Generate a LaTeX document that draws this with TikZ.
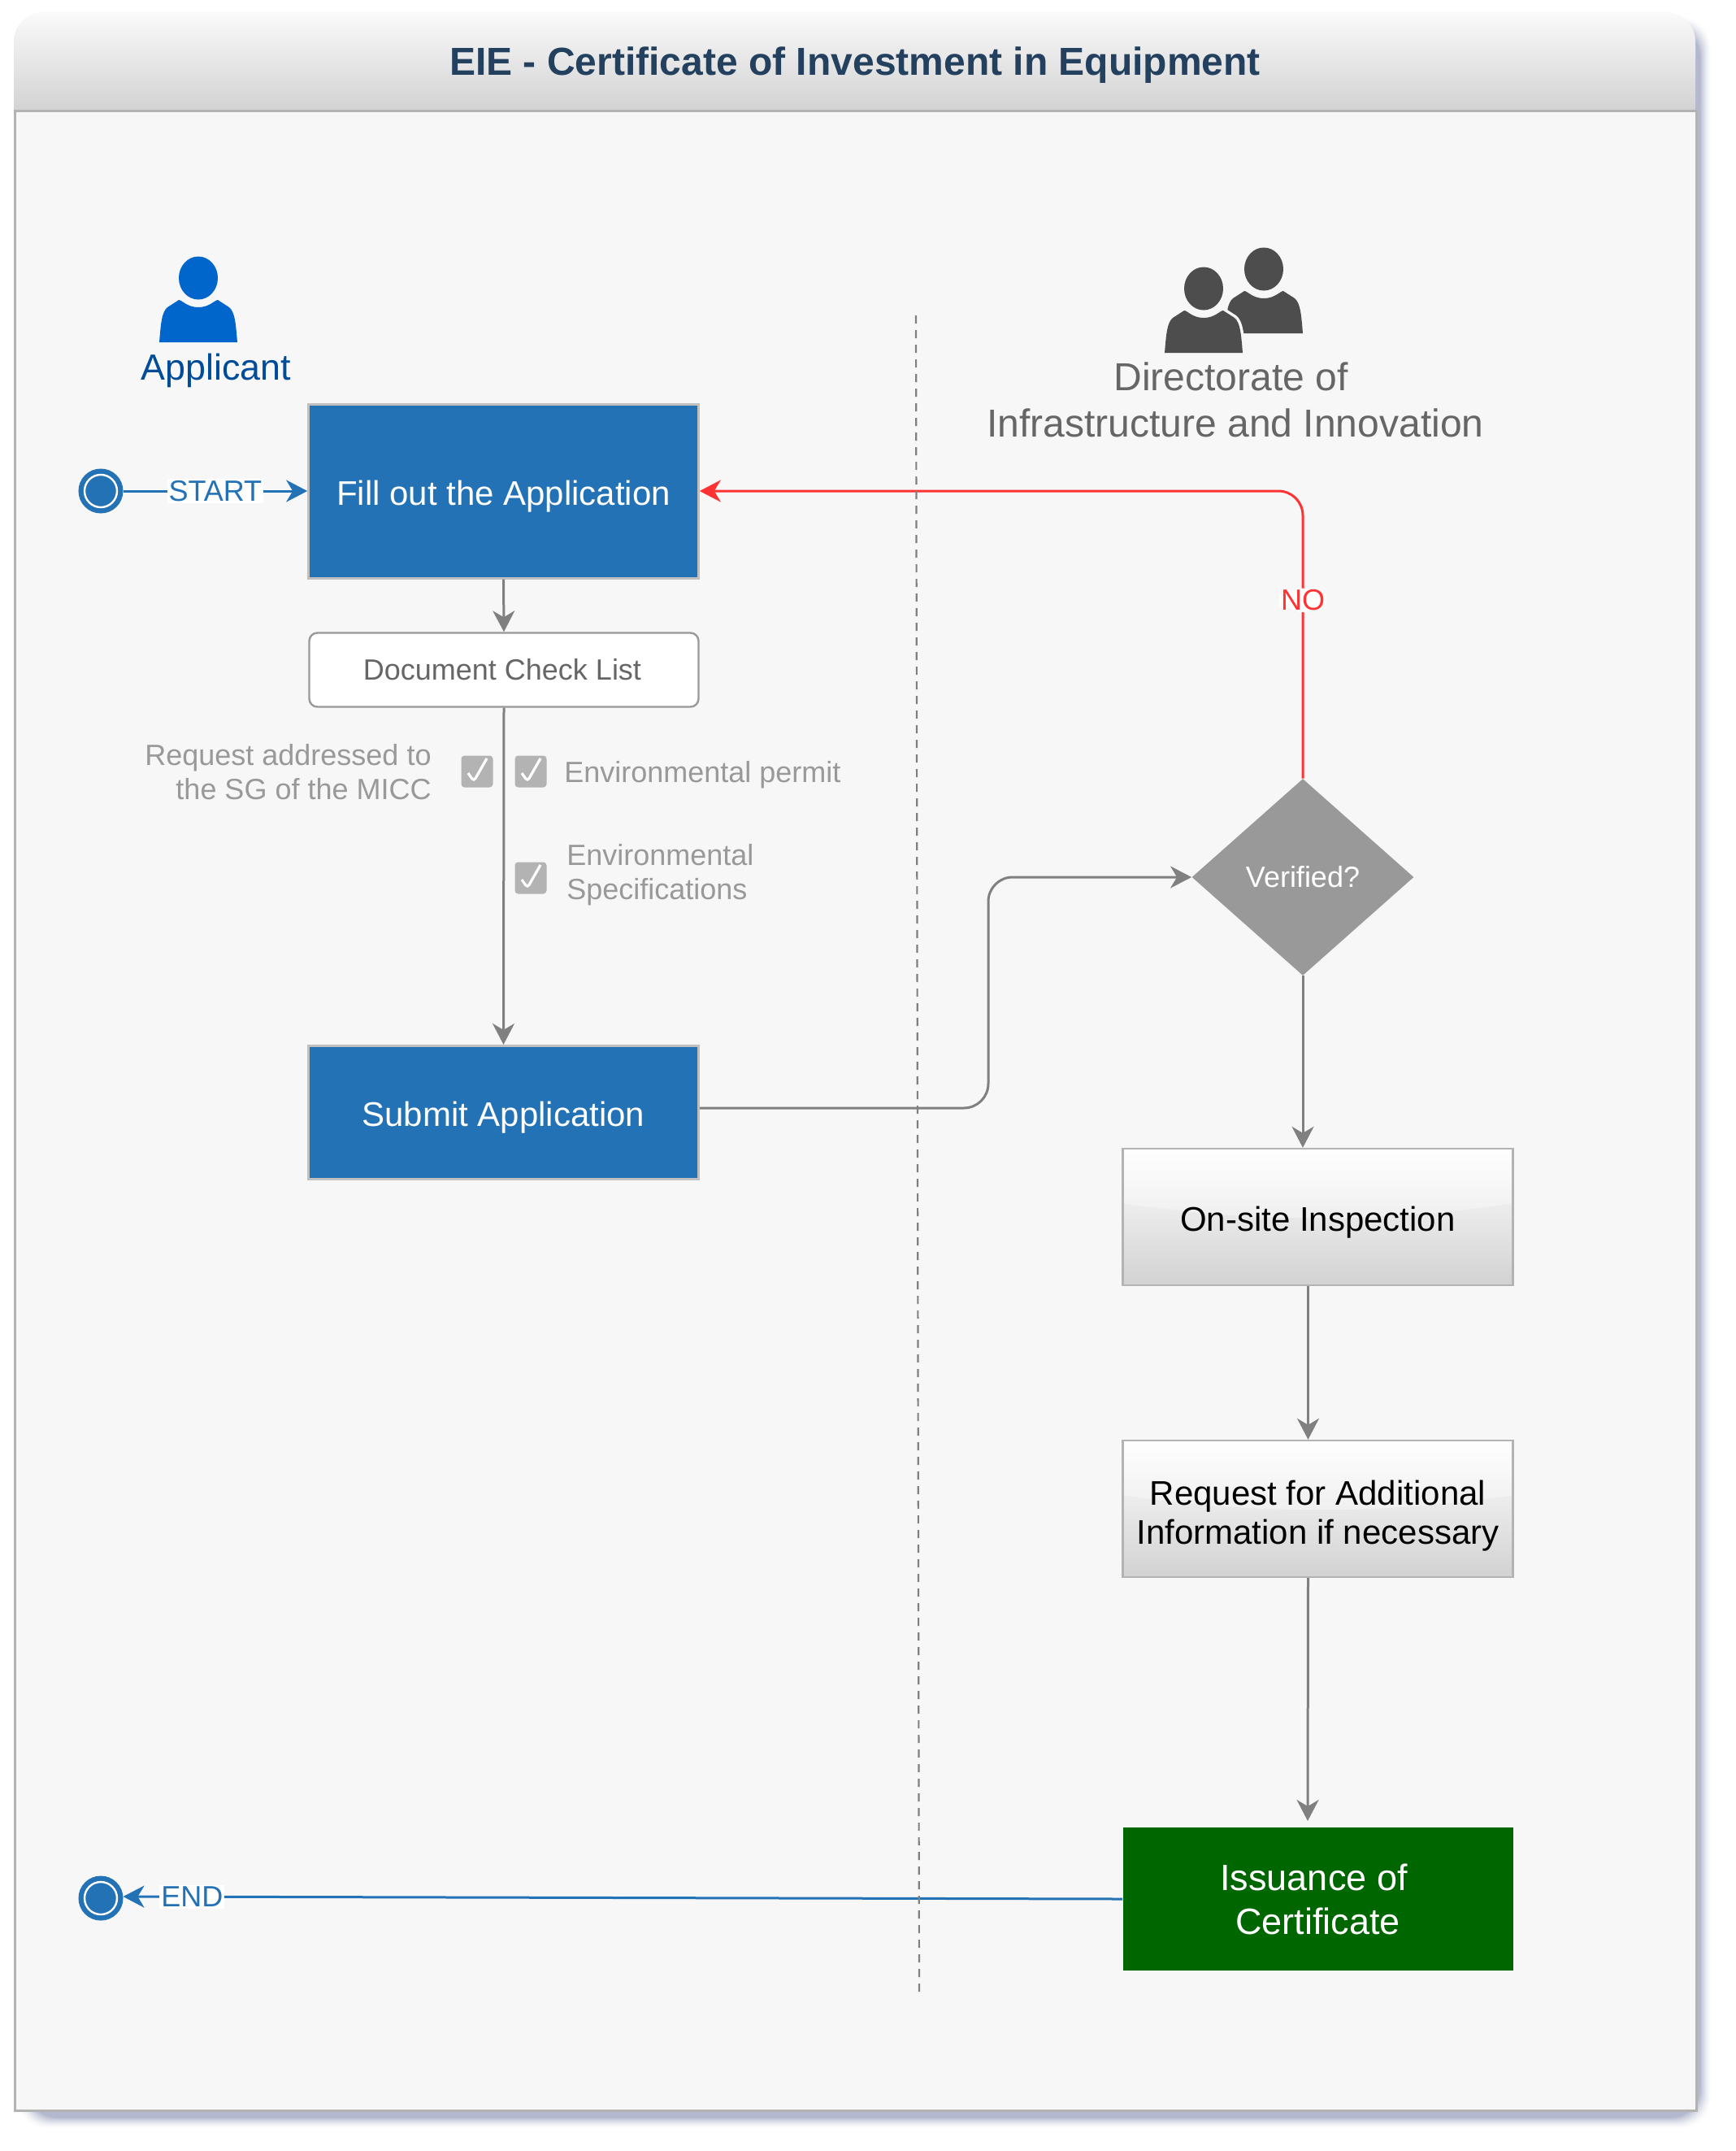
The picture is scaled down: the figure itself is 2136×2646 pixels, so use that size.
\documentclass[tikz,border=0pt]{standalone}
\usepackage{fontspec}
\setmainfont{Liberation Sans}
\usetikzlibrary{arrows.meta,shapes.geometric,calc}
\definecolor{panelbg}{HTML}{F7F7F7}
\definecolor{panelline}{HTML}{B3B3B3}
\definecolor{bluebox}{HTML}{2372B6}
\definecolor{boxline}{HTML}{C0C0C0}
\definecolor{conn}{HTML}{808080}
\definecolor{redc}{HTML}{FF3333}
\definecolor{titlec}{HTML}{23405F}
\definecolor{greenbox}{HTML}{006600}
\definecolor{shadowc}{HTML}{B4B8CE}
\definecolor{greyhi}{HTML}{D2D2D2}
\definecolor{iconblue}{HTML}{0066CC}
\definecolor{labelblue}{HTML}{004C99}
\definecolor{icongrey}{HTML}{4D4D4D}
\definecolor{checkgrey}{HTML}{B3B3B3}
\newcommand{\fsz}[1]{\fontsize{#1}{#1}\selectfont}
\newcommand{\personbody}{(-48,79) .. controls (-46,55) and (-45,42) .. (-38,36) -- (-24,27) .. controls (-20,27) and (-14,36) .. (0,36) .. controls (14,36) and (20,27) .. (24,27) -- (38,36) .. controls (45,42) and (46,55) .. (48,79) -- cycle}
\tikzset{
  personshape/.pic={
    \fill[pic actions] (0,0) ellipse [x radius=24, y radius=26.5];
    \fill[pic actions] \personbody;
  },
  bluestep/.style={rectangle,draw=boxline,line width=1.5pt,fill=bluebox,text=white,inner sep=0pt,font=\fsz{21},minimum width=239.8pt,text height=21.5pt,text depth=4.4pt},
  glassbox/.style={rectangle,draw=panelline,line width=1.2pt,top color=white,bottom color=greyhi,text=black,inner sep=0pt,align=center,font=\fsz{21},minimum width=240pt,minimum height=84pt,
    path picture={\fill[white,opacity=.35] (path picture bounding box.north west) -- (path picture bounding box.north east) -- ($(path picture bounding box.north east)!.4!(path picture bounding box.south east)$) .. controls +(-80pt,-12pt) and +(80pt,-12pt) .. ($(path picture bounding box.north west)!.4!(path picture bounding box.south west)$) -- cycle;}},
  endpoint/.style={circle,fill=bluebox,draw=bluebox,line width=.5pt,minimum size=27pt,inner sep=0pt,
    path picture={\draw[white,line width=1.2pt] (path picture bounding box.center) circle [radius=10pt];}},
  checkbox/.style={rectangle,rounded corners=2pt,fill=checkgrey,minimum size=19.5pt,inner sep=0pt,
    path picture={\draw[white,line width=1.6pt] ([shift={(-5.5pt,-1pt)}]path picture bounding box.center) -- ([shift={(-2pt,-6pt)}]path picture bounding box.center) -- ([shift={(6pt,8pt)}]path picture bounding box.center);}},
  greyarrow/.style={draw=conn,line width=1.5pt,-{Stealth[length=13pt,width=13.5pt,inset=4pt]}},
  bluearrow/.style={draw=bluebox,line width=1.5pt,-{Stealth[length=13pt,width=13.5pt,inset=4pt]}},
  redarrow/.style={draw=redc,line width=1.5pt,-{Stealth[length=13pt,width=13.5pt,inset=4pt]}},
  notetext/.style={text=black!40,font=\fsz{18},inner sep=0pt,align=left},
  flowlabel/.style={fill=white,inner sep=1pt,font=\fsz{18}},
}
\begin{document}
\begin{tikzpicture}[x=.5pt,y=-.5pt]
\useasboundingbox (0,0) rectangle (2136,2646);
% soft shadow
\foreach \i in {0,...,14}{
  \pgfmathsetmacro\m{100*pow(\i/14,1.6)}
  \pgfmathsetmacro\e{14-\i}
  \fill[shadowc!\m!white,rounded corners=18pt] (34-\e,34-\e) rectangle (2092+\e,2605+\e);
}
% panel
\path[fill=panelbg,draw=panelline,line width=1.5pt] (18,136) rectangle (2087,2596);
\path[top color=white!98!black,bottom color=greyhi,draw=none] (17,137) [rounded corners=18pt] -- (17,15) -- (2086,15) [sharp corners] -- (2086,137) -- cycle;
\draw[panelline,line width=1.5pt] (17,136) -- (2087,136);
\node (title) [anchor=base,text=titlec,font=\fsz{24}\bfseries,inner sep=0pt] at (1052,92) {EIE - Certificate of Investment in Equipment};
% icons
\pic[fill=iconblue] at (244,342) {personshape};
\node (applicant) [anchor=base,text=labelblue,font=\fsz{22.4},inner sep=0pt] at (266,467) {Applicant};
\pic[fill=icongrey] at (1555,331) {personshape};
\begin{scope}[shift={(1481,355)}]
  \draw[panelbg,line width=3.5pt] \personbody;
  \draw[panelbg,line width=3.5pt] (0,0) ellipse [x radius=24, y radius=26.5];
\end{scope}
\pic[fill=icongrey] at (1481,355) {personshape};
\node (directorate) [align=center,text=black!60,font=\fsz{24},inner sep=0pt] at (1520,492) {\makebox[0pt]{\hspace*{-5.6pt}Directorate of}\\[4.5pt]Infrastructure and Innovation};
% flow nodes
\node (startc) [endpoint] at (124,604) {};
\node (fill) [bluestep,minimum height=107pt] at (619.5,604) {Fill out the Application};
\node (doc) [rectangle,rounded corners=5pt,draw=black!40,line width=1.2pt,fill=white,text=black!60,minimum width=239.5pt,minimum height=45.5pt,inner sep=0pt,font=\fsz{18}] at (620,824) {Document Check List\hspace*{2pt}};
\node (cb1) [checkbox] at (587,949) {};
\node (cb2) [checkbox] at (653,949) {};
\node (cb3) [checkbox] at (653,1080) {};
\node (req) [notetext,align=right,anchor=east] at (531,949.5) {Request addressed to\\[3pt]the SG of the MICC};
\node (envp) [notetext,anchor=west] at (694,953) {Environmental permit};
\node (envs) [notetext,anchor=west] at (697,1076.5) {Environmental\\[3pt]Specifications};
\node (submit) [bluestep,minimum height=82pt] at (619.5,1368.5) {Submit Application};
\node (verify) [diamond,fill=black!40,text=white,inner sep=0pt,minimum width=136.5pt,minimum height=121pt,aspect=1.13,font=\fsz{18}] at (1603,1079) {Verified?};
\node (onsite) [glassbox,text height=21.5pt,text depth=4.4pt] at (1621.5,1497) {On-site Inspection};
\node (reqinfo) [glassbox] at (1621.5,1856) {\rule{0pt}{24pt}Request for Additional\\[2.8pt]Information if necessary};
\node (issue) [rectangle,fill=greenbox,text=white,align=center,minimum width=240pt,minimum height=88pt,inner sep=0pt,font=\fsz{22.5}] at (1621.5,2336) {Issuance of\hspace*{5pt}\\[4.5pt]Certificate};
\node (endc) [endpoint] at (124,2335) {};
\coordinate (issuein) at (1609,2240);
\coordinate (dashtop) at (1127,388);
\coordinate (dashbot) at (1131,2452);
\coordinate (bendA) at (1216,1363);
\coordinate (bendB) at (1216,1079);
\coordinate (bendC) at (1603,604);
% connectors
\draw[bluearrow] (startc.east) -- node[pos=.5,flowlabel,text=bluebox] (startlab) {START} (fill.west);
\draw[greyarrow] (fill.south) -- (doc.north);
\draw[greyarrow] (doc.south) -- (submit.north);
\draw[greyarrow,rounded corners=15pt] (submit.east |- bendA) -- (bendA) -- (bendB) -- (verify.west);
\draw[redarrow,rounded corners=15pt] (verify.north -| bendC) -- node[pos=.62,flowlabel,text=redc] (nolab) {NO} (bendC) -- (fill.east);
\draw[greyarrow] (verify.south) -- (verify.south |- onsite.north);
\draw[greyarrow] ($(onsite.south)+(-12,0)$) -- ($(reqinfo.north)+(-12,0)$);
\draw[greyarrow] ($(reqinfo.south)+(-12,0)$) -- (issuein);
\draw[bluearrow] (issue.west) -- node[pos=.931,flowlabel,text=bluebox] (endlab) {END} ($(endc.east)+(0,-2)$);
\draw[conn,line width=1.1pt,dash pattern=on 5pt off 4pt] (dashtop) -- (dashbot);
\end{tikzpicture}
\end{document}
